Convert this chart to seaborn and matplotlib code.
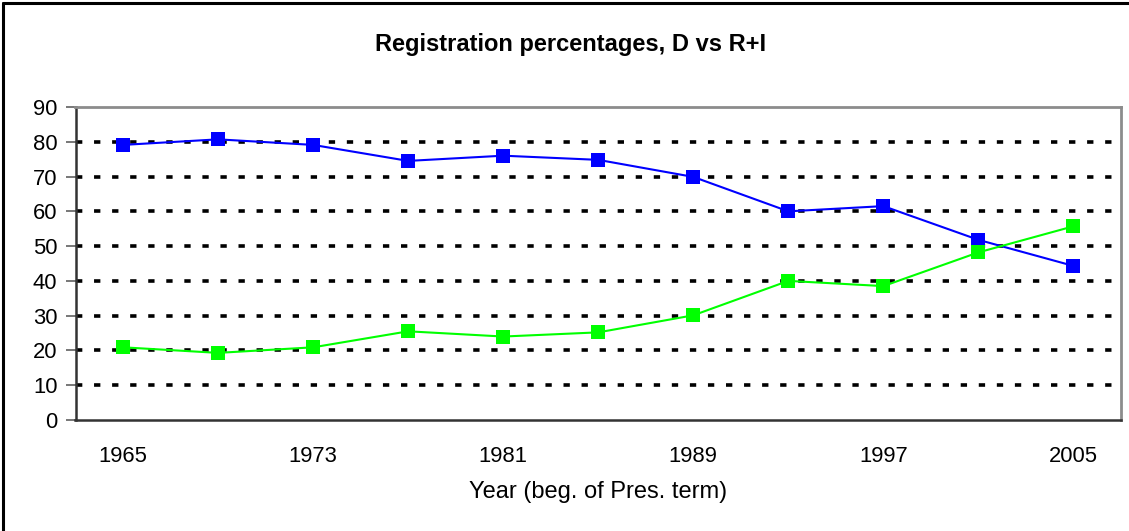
import matplotlib
matplotlib.use("Agg")
import matplotlib.pyplot as plt
import seaborn as sns
import pandas as pd
from matplotlib.lines import Line2D

years = [1965, 1969, 1973, 1977, 1981, 1985, 1989, 1993, 1997, 2001, 2005]
dem = [79.1, 80.7, 79.1, 74.5, 76.0, 74.8, 69.9, 60.0, 61.5, 51.8, 44.3]
rep_ind = [20.9, 19.3, 20.9, 25.5, 24.0, 25.2, 30.1, 40.0, 38.5, 48.2, 55.7]
labeled_years = [1965, 1973, 1981, 1989, 1997, 2005]
y_ticks = [0, 10, 20, 30, 40, 50, 60, 70, 80, 90]
title = "Registration percentages, D vs R+I"
x_label = "Year (beg. of Pres. term)"

sns.set_theme(style="white")
plt.rcParams['font.family'] = ['Liberation Sans', 'DejaVu Sans']
plt.rcParams['text.color'] = 'black'
plt.rcParams['axes.labelcolor'] = 'black'
plt.rcParams['xtick.color'] = 'black'
plt.rcParams['ytick.color'] = 'black'

fig = plt.figure(figsize=(11.29, 5.31), dpi=100)
ax = fig.add_axes([75.5 / 1129, 1 - 420 / 531, (1121 - 75.5) / 1129, (420 - 107) / 531])

df = pd.DataFrame({"year": years * 2,
                   "value": dem + rep_ind,
                   "series": ["D"] * len(years) + ["R+I"] * len(years)})

sns.lineplot(data=df, x="year", y="value", hue="series",
             palette={"D": "#0000FF", "R+I": "#00FF00"},
             marker="s", markersize=10, markeredgewidth=0, linewidth=1.5,
             legend=False, ax=ax, zorder=5)

ax.set_xlim(1963, 2007)
ax.set_ylim(0, 90)
ax.set_yticks(y_ticks)
ax.set_yticklabels([str(v) for v in y_ticks], fontsize=15.8)
ax.set_xticks(labeled_years)
ax.set_xticklabels([str(y) for y in labeled_years], fontsize=15.8)
ax.set_xticks([1963 + 4 * k for k in range(12)], minor=True)
ax.tick_params(axis="x", which="major", length=0, pad=19, labelcolor="black")
ax.tick_params(axis="x", which="minor", direction="in", length=7, width=1.2, color="#404040")
ax.tick_params(axis="y", which="major", direction="out", length=7, width=1.2, color="#606060",
               pad=6, left=True, labelcolor="black")

for v in y_ticks[1:-1]:
    ax.axhline(v, color="black", linewidth=2.6, linestyle=(0, (1.75, 3.25)),
               dash_capstyle="butt", zorder=1)

for side in ["left", "bottom"]:
    ax.spines[side].set_color("#333333")
    ax.spines[side].set_linewidth(1.8)
for side in ["top", "right"]:
    ax.spines[side].set_color("#8c8c8c")
    ax.spines[side].set_linewidth(2.0)
    ax.spines[side].set_visible(True)

ax.set_xlabel(x_label, fontsize=17, labelpad=10, color="black")
ax.set_ylabel("")
fig.text(571 / 1129, 1 - 45 / 531, title, ha="center", va="center",
         fontsize=17, fontweight="bold", color="black")

# outer chart border
fig.add_artist(Line2D([2.5 / 1129, 2.5 / 1129], [0, 1 - 2.5 / 531], color="black", linewidth=2.2))
fig.add_artist(Line2D([2.5 / 1129, 1], [1 - 2.5 / 531, 1 - 2.5 / 531], color="black", linewidth=2.2))

fig.savefig("out.png", dpi=100)
